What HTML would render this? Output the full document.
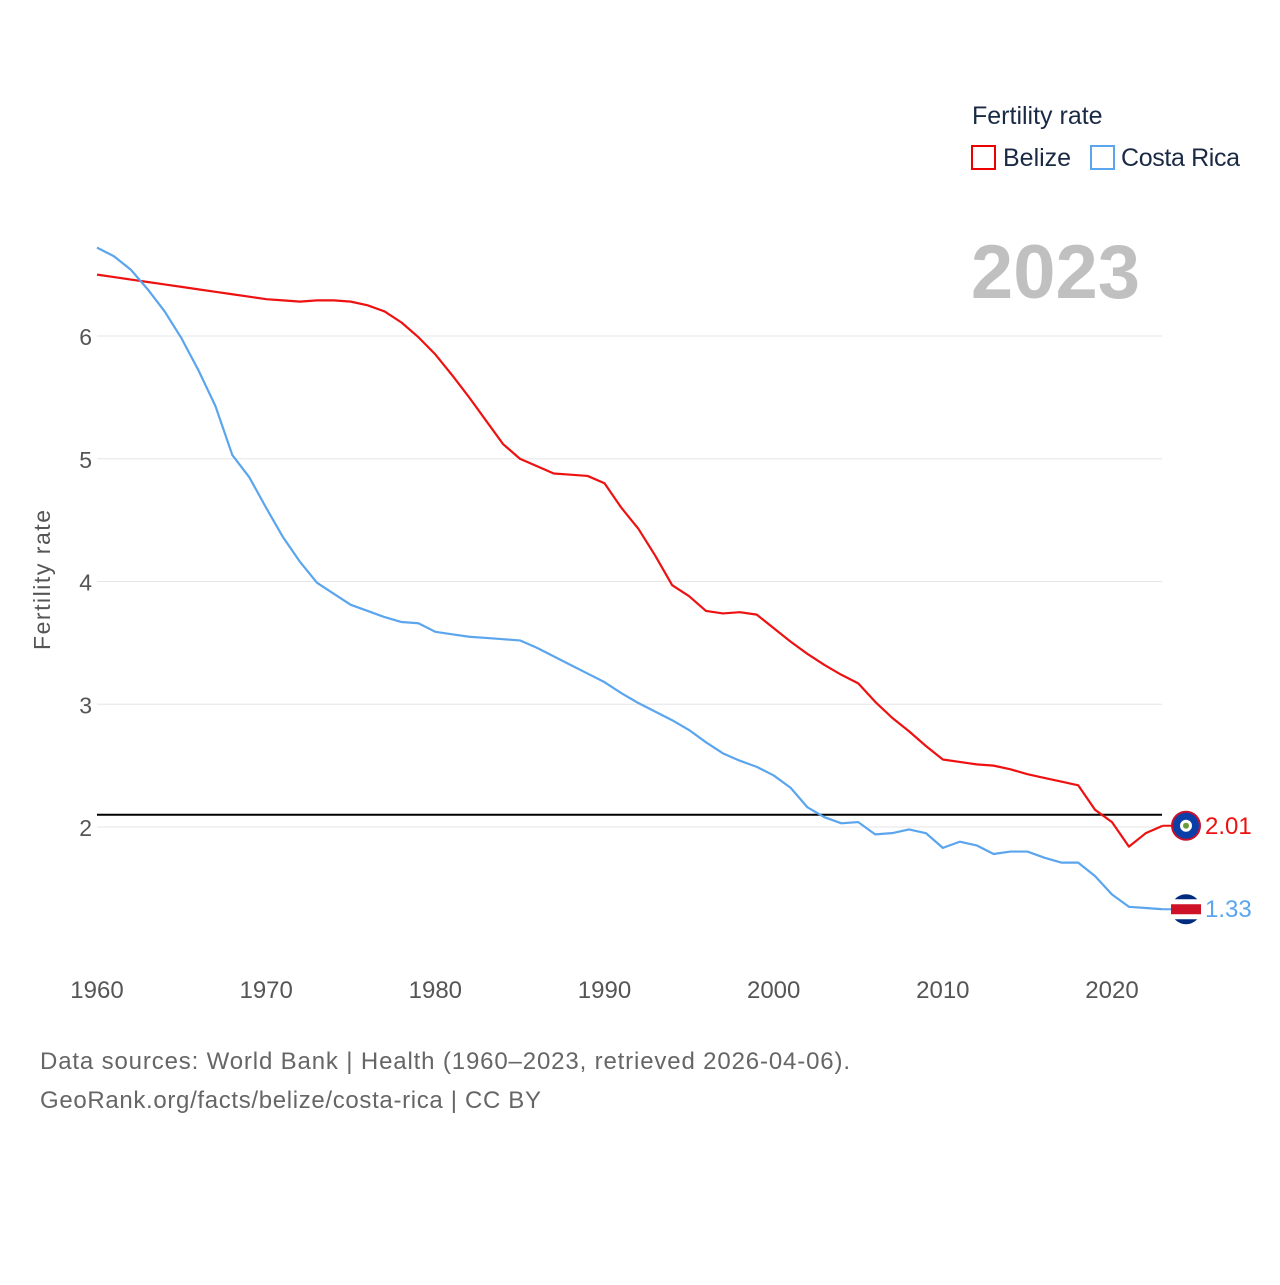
<!DOCTYPE html>
<html><head><meta charset="utf-8"><style>
body{margin:0;background:#fff;font-family:"Liberation Sans",sans-serif}
</style></head><body>
<svg width="1280" height="1280" viewBox="0 0 1280 1280" xmlns="http://www.w3.org/2000/svg">
<g id="grid"></g>
<g id="yticks"></g>
<g id="xticks"></g>
<text x="50" y="580" transform="rotate(-90 50 580)" text-anchor="middle" font-size="23" fill="#555" textLength="140">Fertility rate</text>
<text x="1140" y="298" text-anchor="end" font-size="76" font-weight="bold" fill="#c0c0c0">2023</text>
<g>
<text x="972" y="124" font-size="25" fill="#1a2a44">Fertility rate</text>
<g><rect x="972" y="146" width="23" height="23" fill="none" stroke="#e00" stroke-width="2"/><text x="1003" y="166" font-size="25" fill="#1a2a44">Belize</text></g>
<g><rect x="1091" y="146" width="23" height="23" fill="none" stroke="#5aa5ee" stroke-width="2"/><text x="1121" y="166" font-size="25" fill="#1a2a44" textLength="119">Costa Rica</text></g>
</g>
<g id="series"></g>
<text x="40" y="1069" font-size="24" fill="#666" textLength="810">Data sources: World Bank | Health (1960–2023, retrieved 2026-04-06).</text>
<text x="40" y="1108" font-size="24" fill="#666" textLength="501">GeoRank.org/facts/belize/costa-rica | CC BY</text>
</svg>
<script>
const years = Array.from({length:64},(_, i)=>1960+i);
const belize = [6.50,6.48,6.46,6.44,6.42,6.40,6.38,6.36,6.34,6.32,6.30,6.29,6.28,6.29,6.29,6.28,6.25,6.20,6.11,5.99,5.85,5.68,5.50,5.31,5.12,5.00,4.94,4.88,4.87,4.86,4.80,4.60,4.43,4.21,3.97,3.88,3.76,3.74,3.75,3.73,3.62,3.51,3.41,3.32,3.24,3.17,3.02,2.89,2.78,2.66,2.55,2.53,2.51,2.50,2.47,2.43,2.40,2.37,2.34,2.14,2.04,1.84,1.95,2.01];
const costaRica = [6.72,6.65,6.54,6.38,6.20,5.98,5.72,5.43,5.03,4.85,4.60,4.36,4.16,3.99,3.90,3.81,3.76,3.71,3.67,3.66,3.59,3.57,3.55,3.54,3.53,3.52,3.46,3.39,3.32,3.25,3.18,3.09,3.01,2.94,2.87,2.79,2.69,2.60,2.54,2.49,2.42,2.32,2.16,2.08,2.03,2.04,1.94,1.95,1.98,1.95,1.83,1.88,1.85,1.78,1.80,1.80,1.75,1.71,1.71,1.60,1.45,1.35,1.34,1.33];
const yTicks = [2,3,4,5,6];
const xTicks = [1960,1970,1980,1990,2000,2010,2020];
const replacement = 2.1;
const NS="http://www.w3.org/2000/svg";
const X = y => 97 + (y-1960)*(1112-97)/60;
const Y = v => 827 - (v-2)*122.75;
function mk(tag, attrs, parent){const e=document.createElementNS(NS,tag);for(const k in attrs)e.setAttribute(k,attrs[k]);parent.appendChild(e);return e;}
const grid=document.getElementById('grid'), yt=document.getElementById('yticks'), xt=document.getElementById('xticks'), ser=document.getElementById('series');
yTicks.forEach(v=>{
  const l=mk('line',{x1:97,x2:1162,y1:Y(v),y2:Y(v),stroke:'#e6e6e6','stroke-width':1},grid);
  
  
  const t=mk('text',{x:92,y:Y(v)+9,'text-anchor':'end','font-size':23,fill:'#555'},yt);
  t.textContent=v;
  
  
});
xTicks.forEach(v=>{
  const t=mk('text',{x:X(v),y:998,'text-anchor':'middle','font-size':24,fill:'#555'},xt);
  t.textContent=v;
  
  
});
const rl=mk('line',{x1:97,x2:1162,y1:Y(replacement),y2:Y(replacement),stroke:'#000','stroke-width':2},ser);


function line(data,color,name){
  const p=mk('polyline',{points:data.map((v,i)=>X(years[i])+','+Y(v)).join(' '),fill:'none',stroke:color,'stroke-width':2.2,'stroke-linejoin':'round'},ser);
  
  
  const last=data[data.length-1], lx=X(years[years.length-1]);
  const c=mk('line',{x1:lx,x2:1186,y1:Y(last),y2:Y(last),stroke:color,'stroke-width':2},ser);
  
  
  const t=mk('text',{x:1205,y:Y(last)+8,'font-size':24,fill:color},ser);
  t.textContent=last.toFixed(2);
  
  
  return Y(last);
}
const by=line(belize,'#ee1111','belize');
const cy=line(costaRica,'#5aa5ee','costa-rica');
const fb=mk('g',{},ser);


mk('circle',{cx:1186,cy:by,r:15,fill:'#c8102e'},fb);
mk('circle',{cx:1186,cy:by,r:13,fill:'#0b3fa8'},fb);
mk('circle',{cx:1186,cy:by,r:6,fill:'#fff'},fb);
mk('circle',{cx:1186,cy:by,r:3,fill:'#6a9a3a'},fb);
const fc=mk('g',{},ser);


mk('circle',{cx:1186,cy:cy,r:15,fill:'#002b7f'},fc);
mk('rect',{x:1171,y:cy-10,width:30,height:20,fill:'#fff'},fc);
mk('rect',{x:1171,y:cy-5,width:30,height:10,fill:'#ce1126'},fc);
</script>
</body></html>
